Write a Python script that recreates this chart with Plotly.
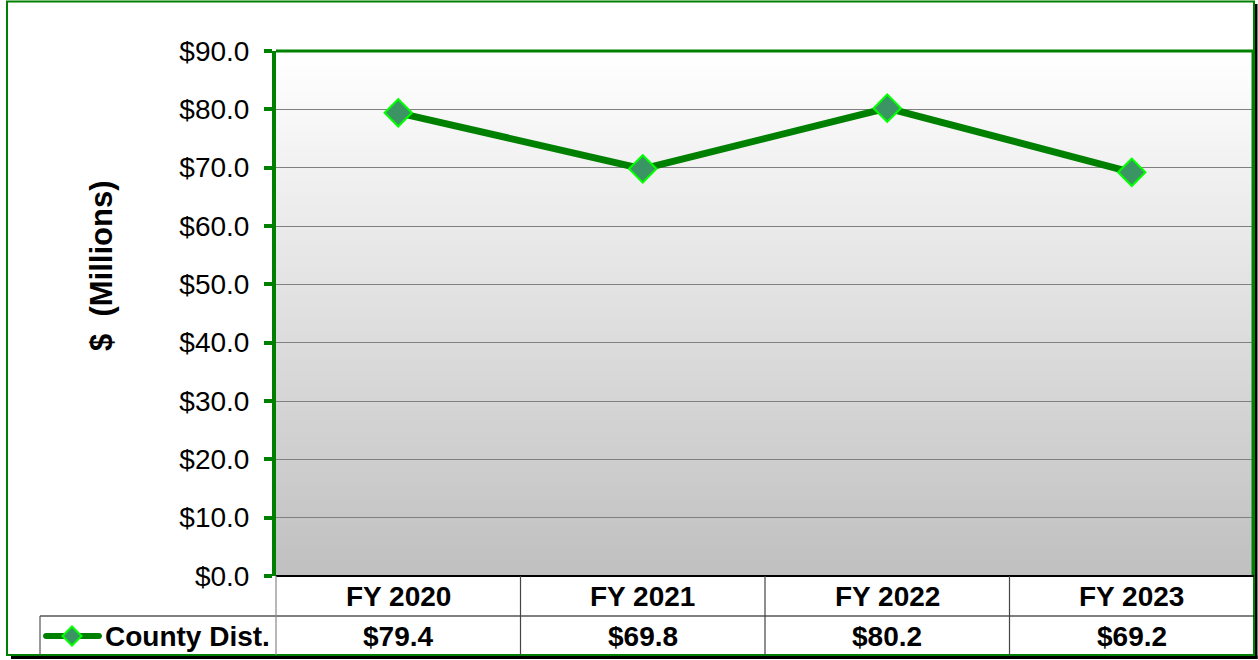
import plotly.graph_objects as go

# ---- data ----
categories = ["FY 2020", "FY 2021", "FY 2022", "FY 2023"]
county_dist = [79.4, 69.8, 80.2, 69.2]
series_name = "County Dist."
y_tick_vals = [0, 10, 20, 30, 40, 50, 60, 70, 80, 90]

W, H = 1258, 660
L, R, T, B = 276, 1254, 51, 576
FONT = "Arial, Liberation Sans, sans-serif"
GREEN = "#008000"
MFILL = "#3b9463"

def px(x):
    return (x - L) / (R - L)

def py(y):
    return (B - y) / (B - T)

x_idx = list(range(len(categories)))

fig = go.Figure()
fig.add_trace(go.Scatter(
    x=x_idx, y=county_dist, mode="lines+markers", name=series_name,
    line=dict(color=GREEN, width=7),
    marker=dict(symbol="diamond", size=21, color=MFILL,
                line=dict(color="#00ff00", width=2)),
    showlegend=False, cliponaxis=False,
))

shapes = []
# gradient background of plot area
n = 105
for i in range(n):
    t = i / (n - 1)
    v = int(round(255 - (255 - 192) * t))
    col = f"rgb({v},{v},{v})"
    shapes.append(dict(type="rect", xref="paper", yref="paper", layer="below",
                       x0=0, x1=1, y0=1 - (i + 1) / n, y1=1 - i / n,
                       fillcolor=col, line=dict(width=0)))

def line(x0, y0, x1, y1, color, width, cap=False):
    shapes.append(dict(type="line", xref="paper", yref="paper",
                       x0=px(x0), y0=py(y0), x1=px(x1), y1=py(y1),
                       line=dict(color=color, width=width)))

# shadow
shapes.append(dict(type="rect", xref="paper", yref="paper",
                   x0=px(1254), x1=px(1257.5), y0=py(659), y1=py(4),
                   fillcolor="black", line=dict(width=0)))
shapes.append(dict(type="rect", xref="paper", yref="paper",
                   x0=px(11), x1=px(1257.5), y0=py(659), y1=py(655.5),
                   fillcolor="black", line=dict(width=0)))
# outer border
shapes.append(dict(type="rect", xref="paper", yref="paper",
                   x0=px(7), x1=px(1254), y0=py(655), y1=py(1.5),
                   line=dict(color=GREEN, width=2)))
# plot frame
line(L, T, R, T, GREEN, 3)
line(R - 1, T, R - 1, B, GREEN, 3)
line(L, B, R, B, "black", 2)
# data table grid
line(40, 616, R, 616, "black", 1.2)
line(40, 616, 40, 655, "#555555", 1.2)
col_w = (R - L) / len(categories)
for i in range(len(categories)):
    xb = L + i * col_w
    line(xb, B, xb, 655, "#444444" if i else "#888888", 1.2)
# legend sample in table
shapes.append(dict(type="path", xref="paper", yref="paper",
                   path=f"M {px(46)} {py(633)} L {px(99)} {py(633)} "
                        f"C {px(103)} {py(633)} {px(103)} {py(639)} {px(99)} {py(639)} "
                        f"L {px(46)} {py(639)} C {px(42)} {py(639)} {px(42)} {py(633)} {px(46)} {py(633)} Z",
                   fillcolor=GREEN, line=dict(width=0)))
cx, cy, d = 72, 636, 9.5
shapes.append(dict(type="path", xref="paper", yref="paper",
                   path=f"M {px(cx - d)} {py(cy)} L {px(cx)} {py(cy - d)} L {px(cx + d)} {py(cy)} L {px(cx)} {py(cy + d)} Z",
                   fillcolor=MFILL, line=dict(color="#00ff00", width=2)))

BOLD = 28
annotations = []
for i, (c, v) in enumerate(zip(categories, county_dist)):
    annotations.append(dict(x=i, xref="x", y=py(596), yref="paper",
                            text=f"<b>{c}</b>", showarrow=False,
                            xanchor="center", yanchor="middle",
                            font=dict(family=FONT, size=BOLD, color="black")))
    annotations.append(dict(x=i, xref="x", y=py(636), yref="paper",
                            text=f"<b>${v:.1f}</b>", showarrow=False,
                            xanchor="center", yanchor="middle",
                            font=dict(family=FONT, size=BOLD, color="black")))
annotations.append(dict(x=px(103), xref="paper", y=py(636), yref="paper",
                        text=f"<b>{series_name}</b>", showarrow=False,
                        xanchor="left", yanchor="middle",
                        font=dict(family=FONT, size=BOLD, color="black")))
annotations.append(dict(x=px(101), xref="paper", y=py(266), yref="paper",
                        text="<b>$  (Millions)</b>", showarrow=False, textangle=-90,
                        xanchor="center", yanchor="middle",
                        font=dict(family=FONT, size=31, color="black")))

fig.update_layout(
    width=W, height=H,
    margin=dict(l=L, r=W - R, t=T, b=H - B, pad=0),
    paper_bgcolor="white", plot_bgcolor="white",
    shapes=shapes, annotations=annotations,
    xaxis=dict(range=[-0.5, len(categories) - 0.5], showticklabels=False,
               showgrid=False, zeroline=False, showline=False, ticks=""),
    yaxis=dict(range=[0, 90], tickvals=y_tick_vals,
               ticktext=[f"${v:.1f}" for v in y_tick_vals],
               tickfont=dict(family=FONT, size=28, color="black"),
               ticks="outside", ticklen=8, tickwidth=4, tickcolor=GREEN,
               ticklabelstandoff=9,
               showline=True, linecolor=GREEN, linewidth=4,
               showgrid=True, gridcolor="#808080", gridwidth=1,
               zeroline=False),
)

fig.write_html("out.html")
